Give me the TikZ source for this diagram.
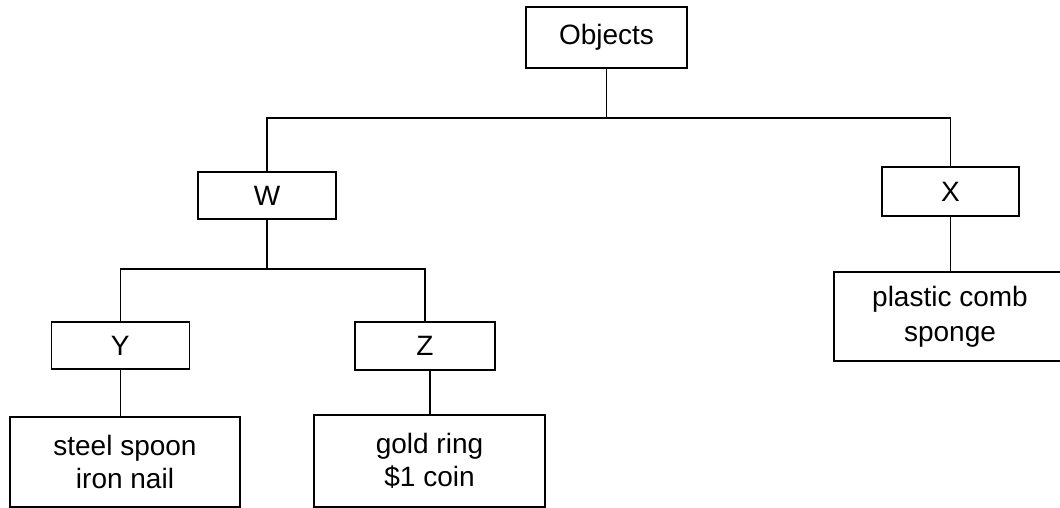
\documentclass[tikz,border=0pt]{standalone}
\usepackage{fontspec}
\setmainfont{Liberation Sans}
\begin{document}
\begin{tikzpicture}[x=1pt,y=-1pt,
  box/.style={draw=black,line width=1.5pt,inner sep=0pt,align=center,font=\fontsize{28}{33}\selectfont},
  link/.style={draw=black,line width=1.5pt}]
\useasboundingbox (0,0) rectangle (1060,508);
\fill[white] (0,0) rectangle (1060,508);
\node[box,minimum width=161,minimum height=61] (obj) at (606.5,37.5) {Objects};
\node[box,minimum width=138,minimum height=47] (w) at (267,195.5) {W};
\node[box,minimum width=137,minimum height=49] (x) at (950.5,191.5) {X};
\node[box,minimum width=138,minimum height=47] (y) at (120.3,345.5) {Y};
\node[box,minimum width=140,minimum height=48] (z) at (425,346) {Z};
\node[box,minimum width=230,minimum height=90] (ybox) at (125,462) {steel spoon\\iron nail};
\node[box,minimum width=231,minimum height=92] (zbox) at (429.5,461) {gold ring\\\$1 coin};
\node[box,minimum width=232,minimum height=89,font=\fontsize{28}{35}\selectfont] (xbox) at (950,316.5) {plastic comb\\sponge};
\coordinate (j1) at (606.5,118);
\coordinate (j2) at (267,269);
\draw[link] (obj.south) -- (j1);
\draw[link] (w.north) -- (w.north |- j1) -- (x.north |- j1) -- (x.north);
\draw[link] (w.south) -- (j2);
\draw[link] (y.north) -- (y.north |- j2) -- (z.north |- j2) -- (z.north);
\draw[link] (y.south) -- (y.south |- ybox.north);
\draw[link] ([xshift=5pt]z.south) -- ([xshift=5pt]z.south |- zbox.north);
\draw[link] (x.south) -- (x.south |- xbox.north);
\end{tikzpicture}
\end{document}
